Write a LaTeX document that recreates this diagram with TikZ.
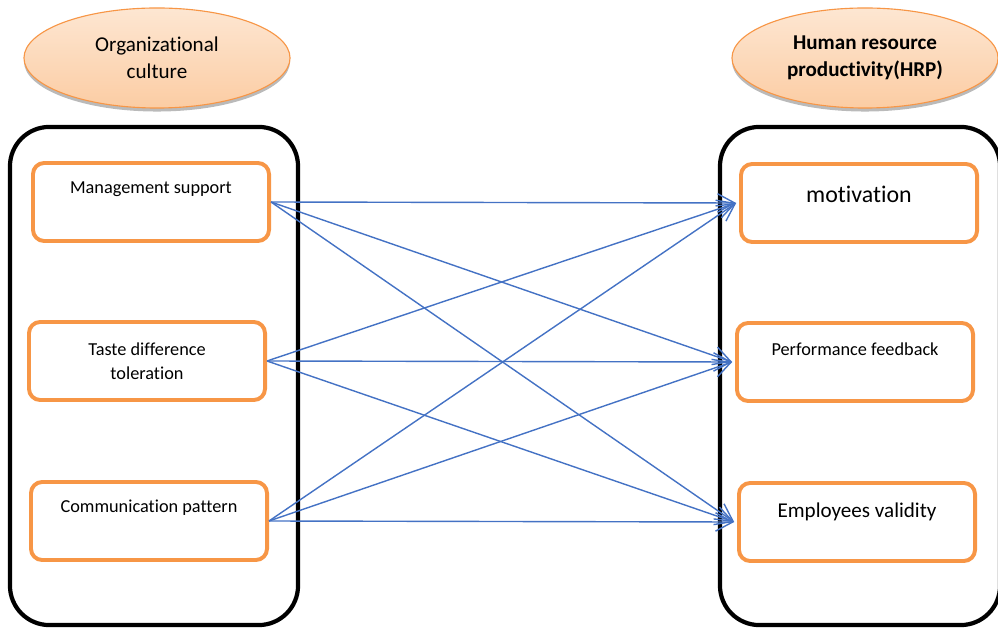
\documentclass[tikz,border=0pt]{standalone}
\usepackage{fontspec}
\setmainfont{Carlito}[Ligatures=NoCommon]
\usepackage{tikz}
\usetikzlibrary{shapes,arrows,arrows.meta,positioning,shadows}
\definecolor{naranja}{RGB}{247,150,70}
\definecolor{azul}{RGB}{68,114,196}
\definecolor{durazno}{RGB}{252,214,180}
\tikzstyle{elipse} = [draw=naranja, thick, ellipse, minimum width=6.65cm, minimum height=2.5cm, top color=durazno!60, bottom color=durazno!85!naranja, drop shadow={shadow xshift=0pt, shadow yshift=-2.5pt, fill=black!45, opacity=0.6}, align=center, font=\fontsize{15}{19}\selectfont]
\tikzstyle{marco} = [draw=black, line width=3pt, rectangle, rounded corners=28pt, minimum width=7.2cm, minimum height=12.45cm]
\tikzstyle{cajon} = [draw=naranja, line width=2.8pt, rectangle, rounded corners=8pt, minimum width=5.9cm, minimum height=1.95cm]
\tikzstyle{texto} = [align=center, font=\fontsize{13}{17}\selectfont]
\tikzstyle{flecha} = [draw=azul, line width=1pt, -{Straight Barb[length=4.3mm, width=4.6mm, line width=1pt]}]

\begin{document}
\begin{tikzpicture}[x=0.025cm, y=-0.025cm]
	\useasboundingbox (0,0) rectangle (998,628);
	% encabezados
	\node [elipse] (cultura) at (157,58) {Organizational\\culture};
	\node [elipse, font=\fontsize{15}{19}\selectfont\bfseries] (hrp) at (865,58) {Human resource\\productivity(HRP)};
	% marcos grandes
	\node [marco] (izq) at (154,376) {};
	\node [marco, minimum width=7cm] (der) at (860,376) {};
	% variables independientes
	\node [cajon] (gestion) at (151,202) {};
	\node [texto] at (151,189) {Management support};
	\node [cajon] (gusto) at (147,361) {};
	\node [texto] at (147,361) {Taste difference\\toleration};
	\node [cajon] (comunica) at (149,521) {};
	\node [texto] at (149,508) {Communication pattern};
	% variables dependientes
	\node [cajon] (motiva) at (859,203) {};
	\node [texto, font=\fontsize{17}{20}\selectfont] at (859,194) {motivation};
	\node [cajon] (desempeno) at (855,362) {};
	\node [texto] at (855,349) {Performance feedback};
	\node [cajon] (validez) at (857,522) {};
	\node [texto, font=\fontsize{15}{18}\selectfont] at (857,512) {Employees validity};
	% relaciones
	\foreach \a in {gestion,gusto,comunica}
		\foreach \b in {motiva,desempeno,validez}
			\draw [flecha] (\a.east) -- ([xshift=-2pt]\b.west);
\end{tikzpicture}
\end{document}
